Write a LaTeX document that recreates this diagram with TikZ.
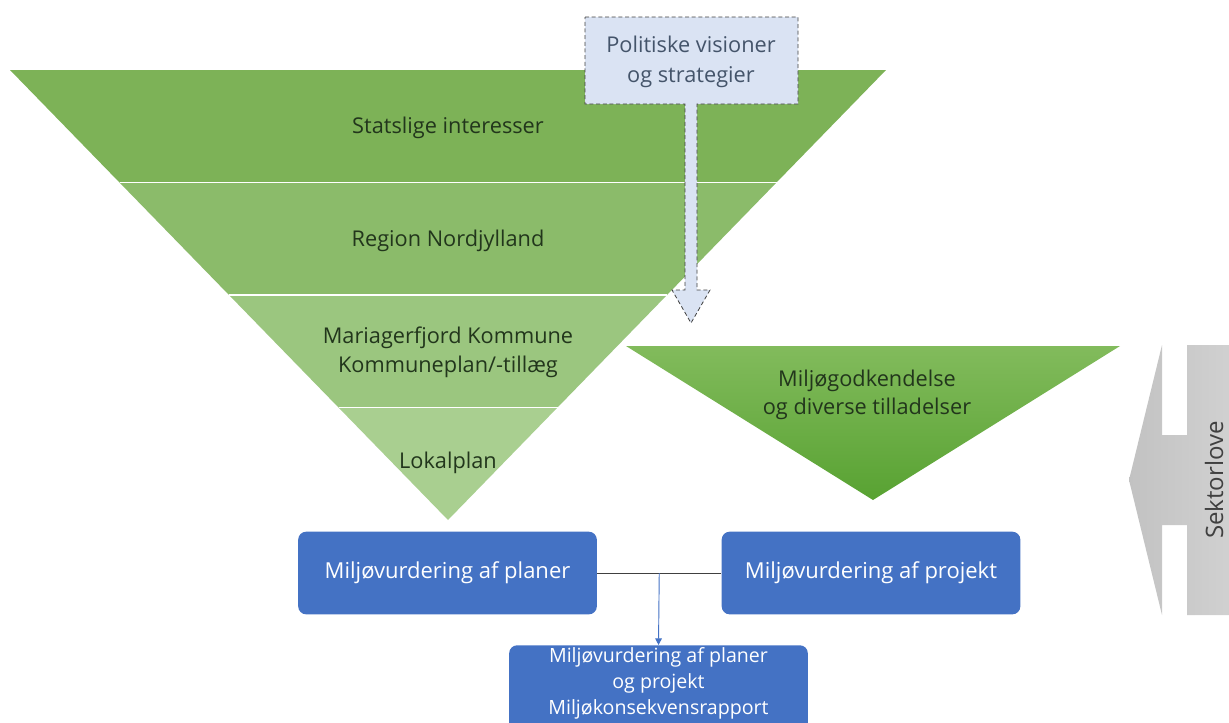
\documentclass[tikz,border=0pt]{standalone}
\usepackage{fontspec}
\setmainfont{Open Sans}
\usetikzlibrary{positioning, arrows.meta, calc}

\definecolor{bandA}{HTML}{7DB257}
\definecolor{bandB}{HTML}{8BBB6A}
\definecolor{bandC}{HTML}{9BC67F}
\definecolor{bandD}{HTML}{A9CF90}
\definecolor{leveltext}{HTML}{22361C}
\definecolor{permittop}{HTML}{82BB5C}
\definecolor{permitbot}{HTML}{58A232}
\definecolor{visionfill}{HTML}{DAE3F3}
\definecolor{visionline}{HTML}{404040}
\definecolor{visiontext}{HTML}{44546A}
\definecolor{planblue}{HTML}{4472C4}
\definecolor{linkgray}{HTML}{404040}
\definecolor{lawlight}{HTML}{C2C2C2}
\definecolor{lawdark}{HTML}{D2D2D2}
\definecolor{lawtext}{HTML}{404040}

\begin{document}
\begin{tikzpicture}[x=0.75pt, y=-0.75pt,
  level/.style={text=leveltext, align=center, font=\fontsize{16.3}{21.5}\selectfont},
  planbox/.style={fill=planblue, rounded corners=6pt, text=white, align=center,
    minimum width=224pt, minimum height=62pt, font=\fontsize{16.5}{21}\selectfont},
  link/.style={draw=linkgray, line width=0.7pt},
  arrow/.style={-{Triangle[length=5pt, width=5pt]}, draw=planblue, line width=0.7pt},
  callout/.style={fill=visionfill, draw=visionline, densely dashed, line width=0.6pt}
]
\useasboundingbox (0,0) rectangle (1229,722);
\clip (0,0) rectangle (1229,722);

% Planning hierarchy: inverted triangle in four bands
\fill[bandA] (10,70) -- (886,70) -- (776.5,182.5) -- (119.5,182.5) -- cycle;
\fill[bandB] (119.5,182.5) -- (776.5,182.5) -- (667,295) -- (229,295) -- cycle;
\fill[bandC] (229,295) -- (667,295) -- (557.5,407.5) -- (338.5,407.5) -- cycle;
\fill[bandD] (338.5,407.5) -- (557.5,407.5) -- (448,520) -- cycle;
\draw[white, line width=1.2pt] (119.5,182.5) -- (776.5,182.5);
\draw[white, line width=1.2pt] (229,295) -- (667,295);
\draw[white, line width=1.2pt] (338.5,407.5) -- (557.5,407.5);

\node[level] (stat) at (448,128) {Statslige interesser};
\node[level] (region) at (448,241) {Region Nordjylland};
\node[level] (kommune) at (448,352) {Mariagerfjord Kommune\\Kommuneplan/-tillæg};
\node[level] (lokal) at (448,463) {Lokalplan};

% Permits triangle
\shade[top color=permittop, bottom color=permitbot] (626,346) -- (1120,346) -- (873,500) -- cycle;
\node[level] (permit) at (867,395) {Miljøgodkendelse\\og diverse tilladelser};

% Political visions: callout with arrow
\draw[callout] (585,17) -- (798,17) -- (798,104) -- (697,104) -- (697,290) -- (710,290)
  -- (691,323) -- (672,290) -- (685,290) -- (685,104) -- (585,104) -- cycle;
\node[text=visiontext, align=center, font=\fontsize{16.3}{23}\selectfont] (vision) at (691,62)
  {Politiske visioner\\og strategier};

% Sector laws: block arrow pointing left
\shade[left color=lawlight, right color=lawdark] (1240,345) -- (1187,345) -- (1187,435) -- (1162,435)
  -- (1162,345) -- (1129,480) -- (1162,615) -- (1162,525) -- (1187,525) -- (1187,615)
  -- (1240,615) -- cycle;
\node[text=lawtext, rotate=90, font=\fontsize{18}{21}\selectfont] (sektor) at (1214,480) {Sektorlove};

% Environmental assessments
\node[planbox] (planer) at (447.5,573) {Miljøvurdering af planer};
\node[planbox] (projekt) at (871,573) {Miljøvurdering af projekt};
\node[planbox, anchor=north, minimum height=82pt, font=\fontsize{14.7}{19.5}\selectfont,
  inner ysep=2pt, text depth=30pt] (rapport) at (658.5,645)
  {Miljøvurdering af planer\\og projekt\\Miljøkonsekvensrapport};

\draw[link] (planer) -- (projekt);
\coordinate (split) at ($(planer.east)!0.5!(projekt.west)$);
\draw[arrow] (split) -- (rapport.north);

\end{tikzpicture}
\end{document}
